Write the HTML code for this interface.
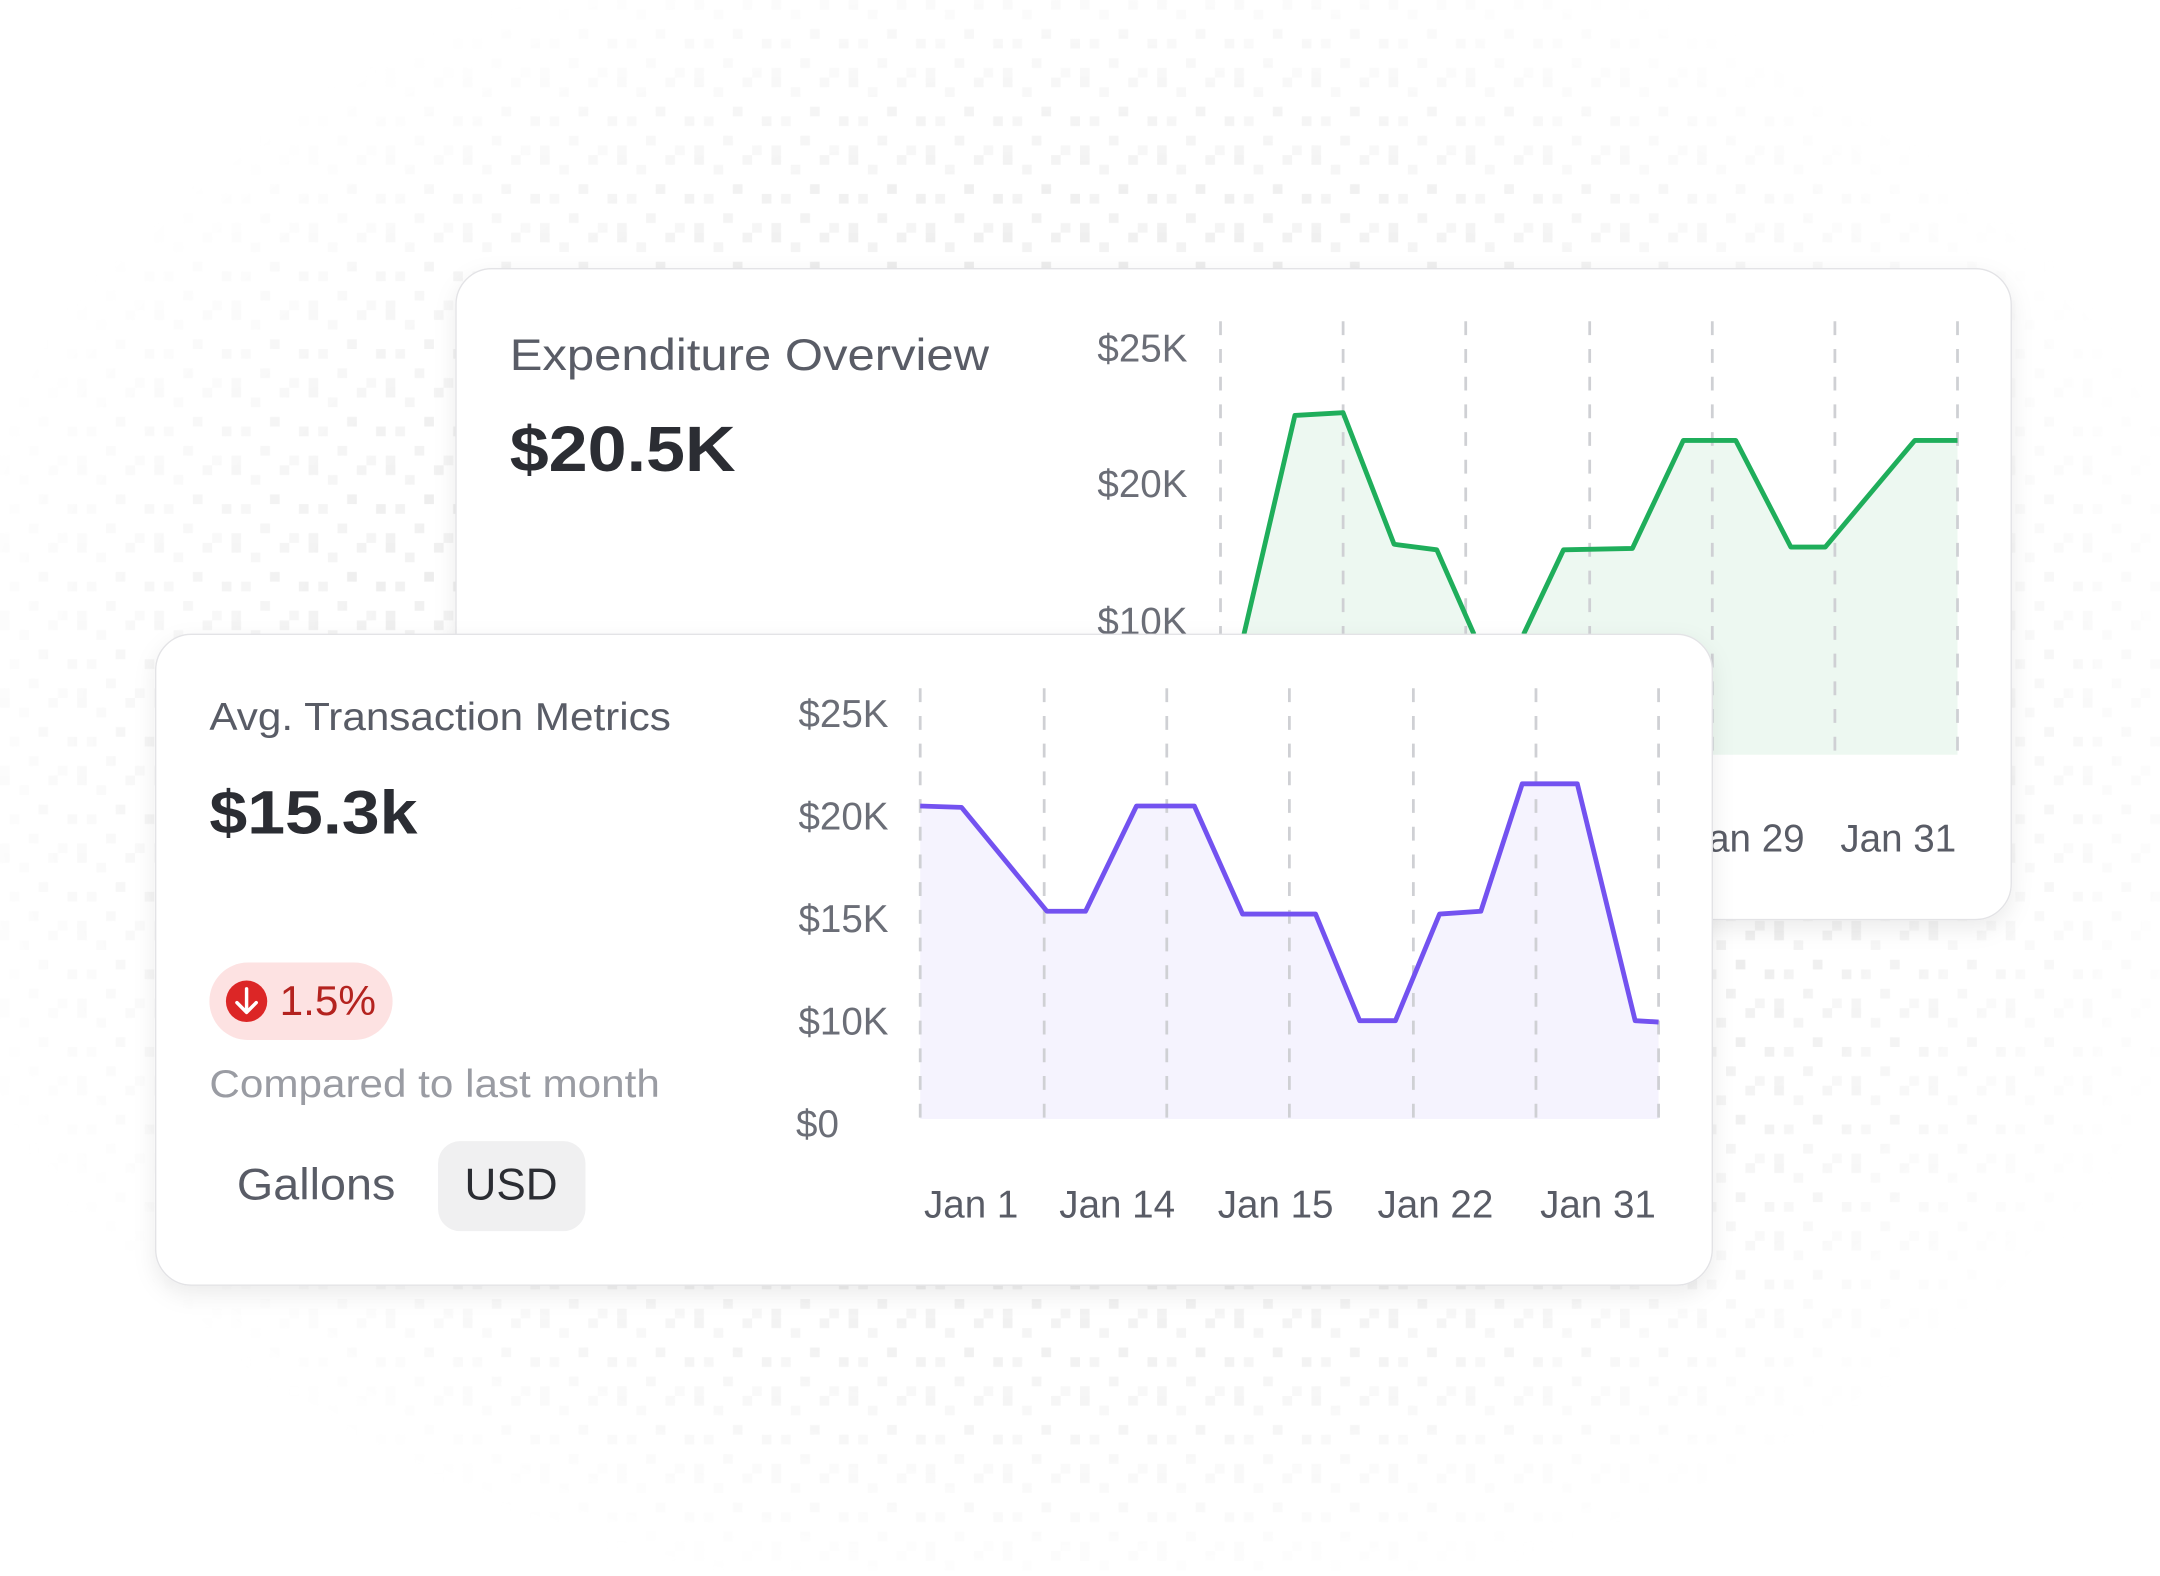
<!DOCTYPE html>
<html><head><meta charset="utf-8"><style>
html,body{margin:0;padding:0;background:#fff;}
svg{display:block;}
text{font-family:"Liberation Sans",sans-serif;}
</style></head><body>
<svg width="2160" height="1576" viewBox="0 0 1568 1138" preserveAspectRatio="none" xmlns="http://www.w3.org/2000/svg">
<defs>
<pattern id="noise" width="56" height="56" patternUnits="userSpaceOnUse">
<rect x="0" y="0" width="7" height="7" fill="#efefef"/>
<rect x="14" y="7" width="7" height="7" fill="#f3f3f3"/>
<rect x="35" y="0" width="7" height="7" fill="#f1f1f1"/>
<rect x="28" y="21" width="7" height="7" fill="#ededed"/>
<rect x="7" y="28" width="7" height="7" fill="#f2f2f2"/>
<rect x="49" y="28" width="7" height="7" fill="#eeeeee"/>
<rect x="21" y="42" width="7" height="7" fill="#f1f1f1"/>
<rect x="42" y="49" width="7" height="7" fill="#f4f4f4"/>
<rect x="0" y="49" width="7" height="7" fill="#f1f1f1"/>
</pattern>
<radialGradient id="fade" cx="50%" cy="48%" r="55%">
<stop offset="0.6" stop-color="#fff" stop-opacity="1"/>
<stop offset="1" stop-color="#fff" stop-opacity="0"/>
</radialGradient>
<mask id="m"><rect width="1568" height="1138" fill="url(#fade)"/></mask>
<filter id="sh" x="-10%" y="-10%" width="120%" height="130%"><feDropShadow dx="0" dy="6" stdDeviation="8" flood-color="#000" flood-opacity="0.08"/></filter>
</defs>
<rect width="1568" height="1138" fill="url(#noise)" mask="url(#m)"/>

<!-- back card -->
<rect x="331" y="194" width="1129" height="470" rx="26" fill="#fff" stroke="#e3e3e6" filter="url(#sh)"/>
<text x="370" y="267" font-size="32" fill="#595c66" textLength="348" lengthAdjust="spacingAndGlyphs">Expenditure Overview</text>
<text x="370" y="340" font-size="46" font-weight="bold" fill="#2b2d33" textLength="164" lengthAdjust="spacingAndGlyphs">$20.5K</text>
<g font-size="28" fill="#6b6e77" text-anchor="end">
<text x="862" y="261">$25K</text><text x="862" y="359">$20K</text><text x="862" y="458">$10K</text>
</g>
<path d="M903,458 L940,300 L975,298 L1012,393 L1043,397 L1070,458 L1106,458 L1135,397 L1185,396 L1222,318 L1260,318 L1300,395 L1325,395 L1390,318 L1421,318 L1421,545 L903,545Z" fill="#edf8f1"/>
<g stroke="#cfd0d4" stroke-width="2" stroke-dasharray="10,10">
<line x1="886" y1="232" x2="886" y2="545"/><line x1="975" y1="232" x2="975" y2="545"/><line x1="1064" y1="232" x2="1064" y2="545"/><line x1="1154" y1="232" x2="1154" y2="545"/><line x1="1243" y1="232" x2="1243" y2="545"/><line x1="1332" y1="232" x2="1332" y2="545"/><line x1="1421" y1="232" x2="1421" y2="545"/>
</g>
<path d="M903,458 L940,300 L975,298 L1012,393 L1043,397 L1070,458 M1106,458 L1135,397 L1185,396 L1222,318 L1260,318 L1300,395 L1325,395 L1390,318 L1421,318" fill="none" stroke="#1fae5b" stroke-width="3.5" stroke-linejoin="round"/>
<g font-size="28" fill="#595c66" text-anchor="middle"><text x="1268" y="615">Jan 29</text><text x="1378" y="615">Jan 31</text></g>

<!-- front card -->
<rect x="113" y="458" width="1130" height="470" rx="26" fill="#fff" stroke="#e3e3e6" filter="url(#sh)"/>
<text x="152" y="527" font-size="28" fill="#595c66" textLength="335" lengthAdjust="spacingAndGlyphs">Avg. Transaction Metrics</text>
<text x="152" y="602" font-size="44" font-weight="bold" fill="#2b2d33" textLength="151" lengthAdjust="spacingAndGlyphs">$15.3k</text>
<rect x="152" y="695" width="133" height="56" rx="28" fill="#fde2e2"/>
<circle cx="179" cy="723" r="15" fill="#dc2626"/>
<path d="M179,714 L179,731 M172,724 L179,731 L186,724" stroke="#fff" stroke-width="2.5" fill="none" stroke-linecap="round" stroke-linejoin="round"/>
<text x="203" y="733" font-size="30" fill="#b4231f" textLength="70" lengthAdjust="spacingAndGlyphs">1.5%</text>
<text x="152" y="792" font-size="28" fill="#9a9ca3" textLength="327" lengthAdjust="spacingAndGlyphs">Compared to last month</text>
<text x="172" y="866" font-size="32" fill="#595c66" textLength="115" lengthAdjust="spacingAndGlyphs">Gallons</text>
<rect x="318" y="824" width="107" height="65" rx="16" fill="#f0f0f1"/>
<text x="371" y="866" font-size="32" fill="#2b2d33" text-anchor="middle">USD</text>
<g font-size="28" fill="#6b6e77" text-anchor="end">
<text x="645" y="525">$25K</text><text x="645" y="599">$20K</text><text x="645" y="673">$15K</text><text x="645" y="747">$10K</text><text x="609" y="821">$0</text>
</g>
<path d="M668,582 L698,583 L760,658 L788,658 L825,582 L867,582 L902,660 L955,660 L987,737 L1013,737 L1045,660 L1075,658 L1105,566 L1145,566 L1187,737 L1204,738 L1204,808 L668,808Z" fill="#f5f3fe"/>
<g stroke="#cfd0d4" stroke-width="2" stroke-dasharray="10,10">
<line x1="668" y1="497" x2="668" y2="808"/><line x1="758" y1="497" x2="758" y2="808"/><line x1="847" y1="497" x2="847" y2="808"/><line x1="936" y1="497" x2="936" y2="808"/><line x1="1026" y1="497" x2="1026" y2="808"/><line x1="1115" y1="497" x2="1115" y2="808"/><line x1="1204" y1="497" x2="1204" y2="808"/>
</g>
<path d="M668,582 L698,583 L760,658 L788,658 L825,582 L867,582 L902,660 L955,660 L987,737 L1013,737 L1045,660 L1075,658 L1105,566 L1145,566 L1187,737 L1204,738" fill="none" stroke="#7352f0" stroke-width="3.5" stroke-linejoin="round"/>
<g font-size="28" fill="#595c66" text-anchor="middle">
<text x="705" y="879">Jan 1</text><text x="811" y="879">Jan 14</text><text x="926" y="879">Jan 15</text><text x="1042" y="879">Jan 22</text><text x="1160" y="879">Jan 31</text>
</g>
</svg>
</body></html>
